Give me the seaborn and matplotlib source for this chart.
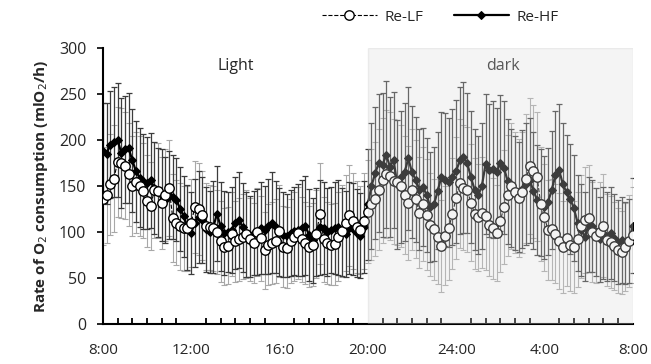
import numpy as np
import matplotlib
matplotlib.use("Agg")
import matplotlib.pyplot as plt
import seaborn as sns

# 10-min samples from 8:00 to 8:00 next day (145 points)
re_hf = [188, 185, 195, 198, 200, 186, 190, 191, 178, 166,
         159, 155, 153, 156, 148, 143, 140, 135, 140, 138,
         135, 125, 117, 105, 99, 110, 116, 113, 103, 100,
         105, 120, 106, 99, 100, 102, 110, 113, 105, 97,
         95, 99, 100, 104, 102, 106, 110, 105, 100, 97,
         96, 99, 101, 102, 104, 107, 97, 91, 100, 105,
         104, 100, 102, 104, 105, 100, 98, 104, 103, 99,
         96, 105, 130, 150, 164, 175, 173, 184, 171, 178,
         152, 160, 165, 180, 165, 157, 146, 149, 140, 127,
         130, 145, 160, 157, 154, 160, 166, 178, 181, 175,
         160, 146, 140, 150, 174, 167, 168, 165, 175, 170,
         155, 148, 142, 138, 147, 152, 156, 145, 135, 132,
         127, 133, 146, 162, 167, 152, 143, 136, 126, 110,
         102, 95, 108, 106, 100, 92, 99, 95, 99, 94,
         89, 91, 88, 90, 107]

re_lf = [136, 140, 152, 158, 176, 175, 172, 163, 150, 154,
         150, 145, 134, 128, 146, 145, 132, 140, 148, 115,
         110, 106, 104, 104, 110, 127, 125, 118, 106, 105,
         104, 100, 90, 84, 85, 98, 90, 92, 95, 98,
         92, 88, 100, 93, 80, 86, 88, 90, 101, 84,
         83, 90, 95, 99, 92, 88, 84, 86, 98, 120,
         92, 88, 86, 87, 95, 101, 110, 118, 112, 105,
         102, 112, 122, 130, 136, 146, 156, 163, 161, 155,
         154, 150, 140, 132, 146, 136, 121, 130, 119, 108,
         103, 95, 85, 96, 104, 120, 137, 153, 148, 146,
         132, 120, 116, 121, 117, 108, 104, 99, 112, 127,
         140, 150, 143, 137, 143, 158, 172, 166, 160, 130,
         116, 102, 103, 98, 90, 84, 94, 86, 84, 92,
         106, 113, 115, 100, 96, 100, 107, 91, 89, 85,
         80, 78, 84, 90, 97]

err_hf = [52, 55, 58, 60, 62, 60, 58, 60, 56, 55,
          54, 52, 50, 52, 50, 48, 50, 47, 48, 46,
          45, 46, 44, 46, 45, 48, 50, 47, 46, 45,
          50, 52, 48, 46, 44, 47, 50, 52, 48, 46,
          44, 46, 47, 50, 48, 52, 55, 50, 48, 46,
          45, 47, 48, 50, 52, 54, 50, 46, 48, 52,
          50, 48, 47, 50, 52, 48, 47, 50, 50, 48,
          46, 50, 60, 68, 72, 75, 78, 80, 76, 74,
          70, 72, 75, 78, 72, 68, 66, 64, 62, 60,
          62, 64, 70, 72, 70, 74, 78, 80, 82, 76,
          72, 66, 64, 68, 76, 72, 74, 70, 74, 72,
          68, 64, 62, 60, 64, 66, 68, 64, 60, 58,
          56, 58, 64, 70, 72, 66, 62, 60, 58, 52,
          50, 48, 52, 50, 48, 46, 50, 48, 50, 47,
          46, 47, 45, 46, 52]

err_lf = [50, 52, 55, 58, 60, 60, 58, 56, 54, 55,
          54, 52, 50, 48, 52, 52, 50, 50, 52, 48,
          46, 47, 46, 46, 48, 50, 50, 48, 47, 46,
          46, 46, 44, 42, 42, 46, 44, 45, 46, 48,
          45, 44, 48, 46, 42, 44, 45, 46, 50, 44,
          44, 46, 48, 50, 46, 45, 44, 45, 48, 55,
          46, 45, 44, 45, 48, 50, 52, 55, 52, 50,
          48, 52, 56, 60, 62, 66, 68, 70, 70, 68,
          68, 66, 64, 62, 66, 64, 60, 62, 60, 56,
          55, 52, 50, 54, 56, 60, 66, 70, 68, 68,
          64, 60, 58, 60, 58, 56, 55, 52, 56, 62,
          66, 68, 66, 64, 66, 70, 74, 72, 70, 62,
          58, 54, 55, 54, 52, 50, 53, 50, 50, 52,
          56, 58, 58, 54, 52, 54, 56, 50, 50, 48,
          46, 45, 48, 50, 52]

tick_labels = ["8:00", "12:00", "16:0", "20:00", "24:00", "4:00", "8:00"]

hours = np.arange(len(re_hf)) / 6.0

sns.set_theme(style="white")
plt.rcParams['font.family'] = ['Open Sans', 'DejaVu Sans']

fig = plt.figure(figsize=(6.51, 3.64), dpi=100)
ax = fig.add_axes([0.158, 0.110, 0.814, 0.758])

# error bars
ax.errorbar(hours, re_lf, yerr=err_lf, fmt='none', ecolor='#a8a8a8',
            elinewidth=0.8, capsize=2.5, capthick=0.8, zorder=1)
ax.errorbar(hours, re_hf, yerr=err_hf, fmt='none', ecolor='#3c3c3c',
            elinewidth=0.9, capsize=2.5, capthick=0.9, zorder=2)

sns.lineplot(x=hours, y=re_hf, ax=ax, color='black', linewidth=1.6,
             marker='D', markersize=4.5, markeredgecolor='black',
             label='Re-HF', zorder=3)
sns.lineplot(x=hours, y=re_lf, ax=ax, color='black', linewidth=0.8,
             linestyle='--', marker='o', markersize=6.8,
             markerfacecolor='white', markeredgecolor='black',
             markeredgewidth=1.0, label='Re-LF', zorder=4)

# dark phase overlay
ax.axvspan(12, 24, ymin=0, ymax=1, facecolor='#d9d9d9', alpha=0.28,
           edgecolor='#c4c4c4', linewidth=1.0, zorder=5)

ax.text(6, 281, 'Light', ha='center', va='center', fontsize=11.5)
ax.text(18.1, 281, 'dark', ha='center', va='center', fontsize=11.5)

ax.set_xlim(0, 24)
ax.set_ylim(0, 300)
ax.set_yticks(range(0, 301, 50))
ax.set_xticks(range(0, 25, 4))
ax.set_xticklabels(tick_labels)
ax.set_xticks(np.arange(0, 24.01, 4 / 6.0), minor=True)
ax.tick_params(axis='x', which='major', length=0, pad=14, labelsize=11)
ax.tick_params(axis='x', which='minor', direction='in', length=4,
               width=1.3, color='black', bottom=True)
ax.tick_params(axis='y', which='major', direction='out', length=4,
               width=1.2, color='black', left=True, labelsize=11.5, pad=8)

for side in ['top', 'right']:
    ax.spines[side].set_visible(False)
for side in ['left', 'bottom']:
    ax.spines[side].set_color('black')
    ax.spines[side].set_linewidth(1.5)

ax.set_ylabel('Rate of O$_2$ consumption (mlO$_2$/h)', fontsize=11,
              fontweight='bold', labelpad=6)
ax.set_xlabel('')

handles, labels = ax.get_legend_handles_labels()
ax.legend_.remove()
order = [labels.index('Re-LF'), labels.index('Re-HF')]
fig.legend([handles[i] for i in order], [labels[i] for i in order],
           loc='center', bbox_to_anchor=(0.676, 0.953), ncol=2,
           frameon=False, fontsize=11, handlelength=3.6,
           columnspacing=2.0, handletextpad=0.5)

fig.savefig('out.png', dpi=100)
